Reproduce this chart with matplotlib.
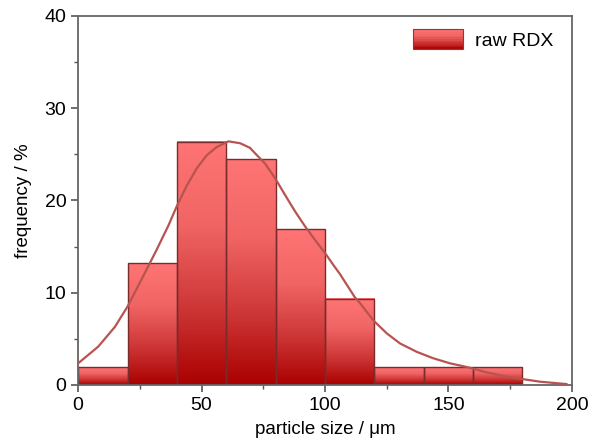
import numpy as np
import matplotlib
matplotlib.use("Agg")
import matplotlib.pyplot as plt
from matplotlib.colors import LinearSegmentedColormap
from matplotlib.patches import Rectangle
from matplotlib.legend_handler import HandlerBase
from matplotlib.ticker import MultipleLocator

# histogram bins (particle size, um) and frequency (%)
bin_left = [0, 20, 40, 60, 80, 100, 120, 140, 160]
bin_width = 20
freq = [1.9, 13.2, 26.35, 24.45, 16.9, 9.35, 1.9, 1.9, 1.9]

# fitted distribution curve
fit_x = [0, 8.1, 14.9, 20, 25.6, 31.7, 36.6, 40, 44, 48.1, 52.1, 56.2, 60.9,
         65.6, 69.6, 71.7, 75.7, 79.8, 83.8, 87.9, 91.9, 96, 100, 103.4, 106.1,
         112.1, 114.2, 119.6, 125, 130.4, 137.1, 143.8, 150.6, 157.4, 165,
         173.6, 187, 197.8]
fit_y = [2.35, 4.15, 6.3, 8.5, 11.4, 14.6, 17.3, 19.4, 21.6, 23.5, 24.9, 25.8,
         26.4, 26.2, 25.7, 25.1, 24.0, 22.4, 20.6, 18.8, 17.2, 15.7, 14.3, 13.0,
         12.0, 9.5, 8.86, 7.0, 5.6, 4.5, 3.6, 2.9, 2.35, 1.95, 1.4, 0.9, 0.36,
         0.1]

plt.rcParams["font.family"] = ["Liberation Sans", "DejaVu Sans"]

cmap = LinearSegmentedColormap.from_list(
    "bar", [(0.0, "#ff7474"), (0.35, "#f06464"), (0.7, "#cc3434"), (1.0, "#aa0000")])
grad = np.linspace(0, 1, 256).reshape(-1, 1)


class GradientHandler(HandlerBase):
    def create_artists(self, legend, orig_handle, xdescent, ydescent,
                       width, height, fontsize, trans):
        n = 12
        arts = []
        for i in range(n):
            y = -ydescent + height * (1 - (i + 1) / n)
            r = Rectangle((-xdescent, y), width, height / n + 0.3,
                          facecolor=cmap((i + 0.5) / n), edgecolor="none",
                          transform=trans)
            arts.append(r)
        arts.append(Rectangle((-xdescent, -ydescent), width, height,
                              facecolor="none", edgecolor="#8a3a3a",
                              linewidth=0.8, transform=trans))
        return arts


fig = plt.figure(figsize=(5.92, 4.41), dpi=100)
ax = fig.add_axes([0.132, 0.127, 0.834, 0.837])

for x0, h in zip(bin_left, freq):
    ax.imshow(grad, cmap=cmap, extent=[x0, x0 + bin_width, 0, h],
              aspect="auto", origin="upper", zorder=1)
ax.bar(bin_left, freq, width=bin_width, align="edge", fill=False,
       edgecolor="#7a2c2c", linewidth=1.0, zorder=2)

ax.plot(fit_x, fit_y, color="#b85450", linewidth=1.6, zorder=3)

ax.set_xlim(0, 200)
ax.set_ylim(0, 40)
ax.xaxis.set_major_locator(MultipleLocator(50))
ax.xaxis.set_minor_locator(MultipleLocator(25))
ax.yaxis.set_major_locator(MultipleLocator(10))
ax.yaxis.set_minor_locator(MultipleLocator(5))
ax.tick_params(which="both", direction="out", colors="#555555", labelcolor="black",
               labelsize=14)
ax.tick_params(which="major", length=5, width=1.2)
ax.tick_params(which="minor", length=3, width=1.0)
for s in ax.spines.values():
    s.set_color("#666666")
    s.set_linewidth(1.3)

ax.set_xlabel("particle size / \u03bcm", fontsize=13.5, labelpad=5)
ax.set_ylabel("frequency / %", fontsize=13.5, labelpad=9)

ax.legend([object()], ["raw RDX"], handler_map={object: GradientHandler()},
          loc="upper right", frameon=False, fontsize=14,
          handlelength=2.6, handleheight=1.2, handletextpad=0.6,
          borderaxespad=0.3, bbox_to_anchor=(0.99, 1.0))

fig.savefig("out.png", dpi=100)
